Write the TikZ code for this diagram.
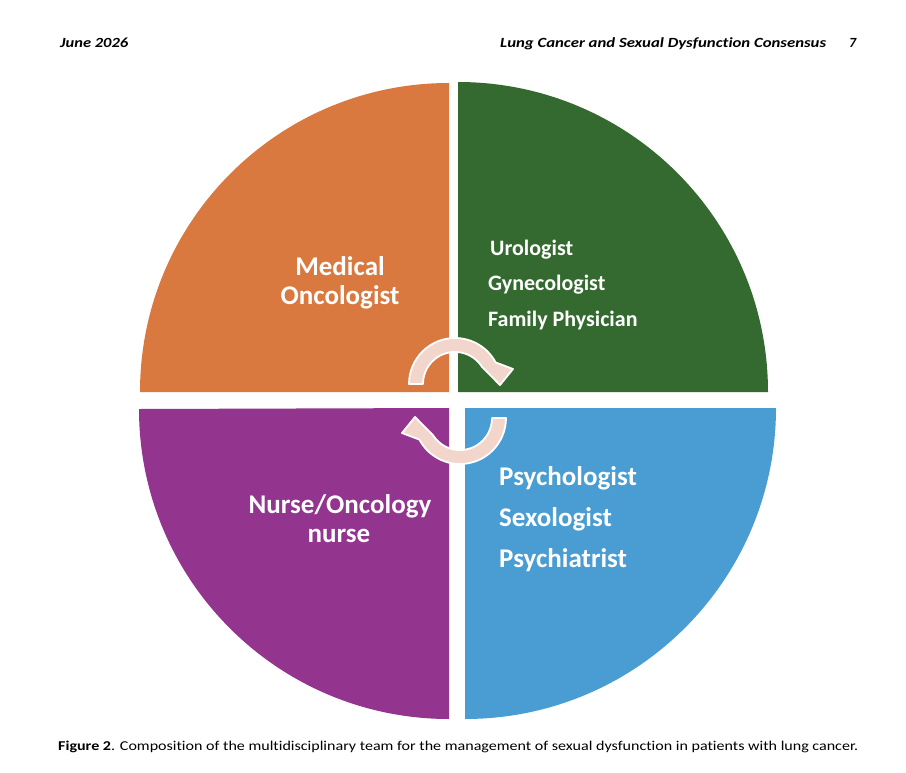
\documentclass[tikz,border=0pt]{standalone}
\usepackage{fontspec}
\setmainfont{Carlito}
\newfontfamily\nolig[Ligatures=CommonOff]{Carlito}
\usepackage{graphicx}
\definecolor{qorange}{HTML}{D9783F}
\definecolor{qgreen}{HTML}{346A2F}
\definecolor{qpurple}{HTML}{93348F}
\definecolor{qblue}{HTML}{4A9DD2}
\definecolor{arrowpink}{HTML}{F2D6CC}
\tikzset{
  lbl/.style={text=white, inner sep=0pt, font=\bfseries\fontsize{27}{30}\selectfont},
  lblsmall/.style={text=white, inner sep=0pt, font=\bfseries\fontsize{22}{26}\selectfont},
  arrowfill/.style={fill=arrowpink, draw=white, line width=1.8pt, line join=round},
  cyclearrow/.pic={
    \path[arrowfill] (-46,0) arc[start angle=180, end angle=332, radius=46]
      -- (58,-15) -- (45,1) -- (27.1,-17)
      arc[start angle=328, end angle=180, radius=32] -- cycle;
  }
}
\begin{document}
\begin{tikzpicture}[x=1pt,y=-1pt]
\useasboundingbox[fill=white] (0,0) rectangle (906,772);

% quadrants
\fill[qorange] (449,392) -- (140,392) arc[start angle=180, end angle=270, radius=309] -- cycle;
\fill[qgreen]  (458,392) -- (458,82) arc[start angle=270, end angle=360, radius=310] -- cycle;
\fill[qblue]   (465,408) -- (776,408) arc[start angle=0, end angle=90, radius=311] -- cycle;
\fill[qpurple] (449,408) -- (449,719) arc[start angle=90, end angle=180, radius=310] -- cycle;

% labels
\node[lbl, anchor=base] (med1) at (340,275) {Medical};
\node[lbl, anchor=base] (med2) at (340,304) {Oncologist};

\node[lblsmall, anchor=base west] (gr1) at (490,255) {Urologist};
\node[lblsmall, anchor=base west] (gr2) at (488,290.5) {Gynecologist};
\node[lblsmall, anchor=base west] (gr3) at (488,326) {Family Physician};

\node[lbl, anchor=base west] (bl1) at (499,485) {Psychologist};
\node[lbl, anchor=base west] (bl2) at (499,526) {Sexologist};
\node[lbl, anchor=base west] (bl3) at (499,567) {Psychiatrist};

\node[lbl, anchor=base] (pu1) at (340,513) {Nurse/Oncology};
\node[lbl, anchor=base] (pu2) at (339,542) {nurse};

% cycle arrows
\pic at (455,384) {cyclearrow};
\pic[rotate=180] at (460,418) {cyclearrow};

% header
\node[anchor=base west, inner sep=0pt] (hdate) at (60,47)
  {\resizebox{68pt}{\height}{\nolig\fontsize{14}{16}\selectfont\bfseries\itshape June 2026}};
\node[anchor=base west, inner sep=0pt] (htitle) at (500,47)
  {\resizebox{326pt}{\height}{\nolig\fontsize{14}{16}\selectfont\bfseries\itshape Lung Cancer and Sexual Dysfunction Consensus}};
\node[anchor=base west, inner sep=0pt] (hpage) at (849,47)
  {\nolig\fontsize{14}{16}\selectfont\bfseries\itshape 7};

% caption
\node[anchor=base west, inner sep=0pt] (cap) at (58,750)
  {\resizebox{800pt}{\height}{\nolig\fontsize{13.5}{15}\selectfont\textbf{Figure 2}. Composition of the multidisciplinary team for the management of sexual dysfunction in patients with lung cancer.}};
\end{tikzpicture}
\end{document}
